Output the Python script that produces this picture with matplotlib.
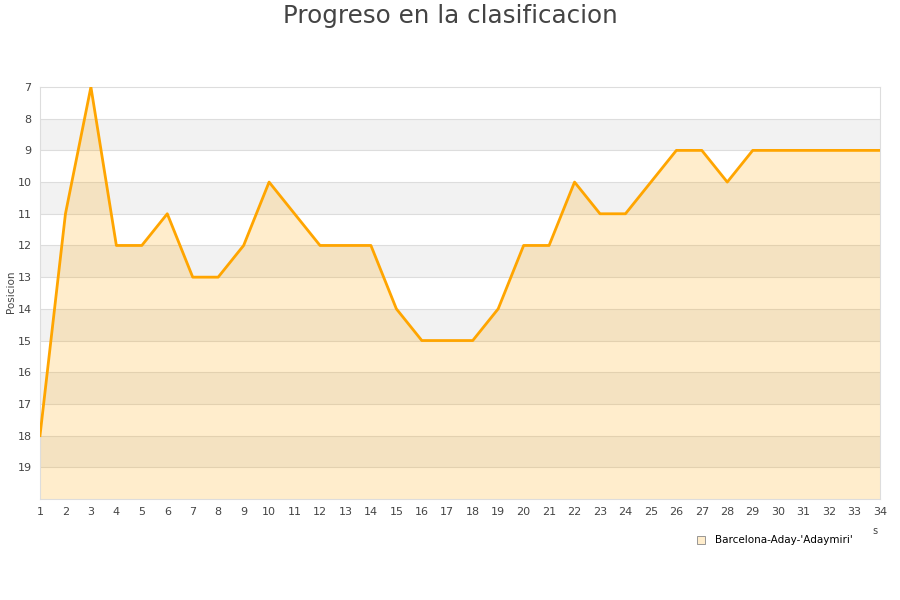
import matplotlib.pyplot as plt
from matplotlib.patches import Rectangle

jornadas = list(range(1, 35))
posiciones = [18, 11, 7, 12, 12, 11, 13, 13, 12, 10, 11, 12, 12, 12, 14, 15, 15, 15,
              14, 12, 12, 10, 11, 11, 10, 9, 9, 10, 9, 9, 9, 9, 9, 9]
equipo = "Barcelona-Aday-'Adaymiri'"
y_ticks = list(range(7, 20))

fig = plt.figure(figsize=(9, 6), dpi=100)
ax = fig.add_axes([40 / 900, 1 - 499 / 600, 840 / 900, 412 / 600])

# alternating background bands
for y0 in range(7, 20):
    if y0 % 2 == 0:
        ax.axhspan(y0, y0 + 1, color="#f2f2f2", zorder=0, lw=0)
for y0 in range(8, 20):
    ax.axhline(y0, color="#dddddd", lw=0.8, zorder=1)

ax.fill_between(jornadas, posiciones, 20, color="#ffa500", alpha=0.2, lw=0, zorder=2)
ax.plot(jornadas, posiciones, color="#ffa500", lw=2, zorder=3)

ax.set_xlim(1, 34)
ax.set_ylim(20, 7)
ax.set_xticks(jornadas)
ax.set_yticks(y_ticks)
ax.tick_params(length=0, labelsize=8, colors="#444444", pad=6)
for s in ax.spines.values():
    s.set_color("#dddddd")

fig.text(0.5, 1 - 16 / 600, "Progreso en la clasificacion", ha="center", va="center",
         fontsize=17.7, color="#444444")
fig.text(11 / 900, 1 - 292 / 600, "Posicion", rotation=90, ha="center", va="center",
         fontsize=7.5, color="#444444")
# clipped x axis title
fig.text(875 / 900, 1 - 531 / 600, "s", ha="center", va="center", fontsize=7,
         color="#444444")

# legend
fig.patches.append(Rectangle((697 / 900, 1 - 544 / 600), 8 / 900, 8 / 600,
                             transform=fig.transFigure, facecolor="#ffedcc",
                             edgecolor="#888888", lw=0.6))
fig.text(715 / 900, 1 - 540 / 600, equipo, ha="left", va="center", fontsize=7.5,
         color="#000000")

fig.savefig("out.png", dpi=100)
